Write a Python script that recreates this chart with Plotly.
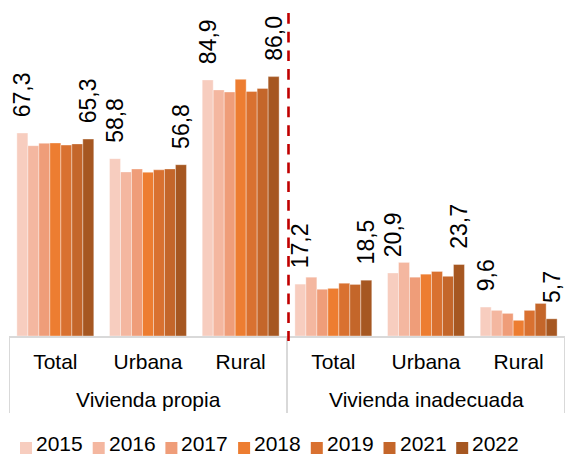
import plotly.graph_objects as go

# Housing indicators by area, 2015-2022 (percent)
groups = ["Vivienda propia", "Vivienda inadecuada"]
areas = ["Total", "Urbana", "Rural"]
years = ["2015", "2016", "2017", "2018", "2019", "2021", "2022"]

# one list per year: propia (Total, Urbana, Rural), inadecuada (Total, Urbana, Rural)
v2015 = [67.3, 58.8, 84.9, 17.2, 20.9, 9.6]
v2016 = [63.1, 54.4, 81.6, 19.5, 24.4, 8.5]
v2017 = [63.9, 55.4, 80.9, 15.5, 19.5, 7.5]
v2018 = [64.0, 54.3, 85.1, 15.8, 20.5, 5.2]
v2019 = [63.3, 55.1, 81.1, 17.5, 21.4, 8.5]
v2021 = [63.7, 55.4, 82.1, 17.1, 19.8, 10.8]
v2022 = [65.3, 56.8, 86.0, 18.5, 23.7, 5.7]
series = [v2015, v2016, v2017, v2018, v2019, v2021, v2022]

colors = ["#F7CDBF", "#F4B7A0", "#EF9D79", "#ED7D31", "#D97130", "#C4662A", "#A65721"]
labelled = {"2015", "2022"}

FONT = "Liberation Sans, Arial, sans-serif"

tick_labels = areas * len(groups)
positions = list(range(len(tick_labels)))


def fmt(v):
    return f"{v:.1f}".replace(".", ",")


fig = go.Figure()
for year, vals, col in zip(years, series, colors):
    text = ["\u00a0\u00a0" + fmt(v) for v in vals] if year in labelled else None
    fig.add_trace(go.Bar(
        x=positions, y=vals, name=year,
        marker=dict(color=col, line=dict(color="rgba(255,255,255,0.6)", width=0.6)),
        text=text, textposition="outside" if text else "none",
        textangle=-90, constraintext="none", cliponaxis=False,
        textfont=dict(family=FONT, size=23, color="#000000"),
        showlegend=False, hoverinfo="skip",
    ))

# plot-area geometry in pixels, used to place items below the axis
W, H = 565, 455
ML, MR, MT, MB = 9, 0, 13, 119
pw, ph = W - ML - MR, H - MT - MB


def px_x(px):
    return (px - ML) / pw


def px_y(py):
    return (H - MB - py) / ph


shapes = []
annotations = []

# group labels and the dividers that box them
n = len(areas)
for gi, g in enumerate(groups):
    annotations.append(dict(xref="x", yref="paper", x=gi * n + (n - 1) / 2, y=px_y(399),
                            xanchor="center", yanchor="middle", showarrow=False,
                            text=g, font=dict(family=FONT, size=21, color="#000000")))
for b in range(len(groups) + 1):
    shapes.append(dict(type="line", xref="x", yref="paper",
                       x0=b * n - 0.5, x1=b * n - 0.5, y0=0, y1=px_y(413),
                       line=dict(color="#D9D9D9", width=2)))

# legend: colour square followed by the year
for i, (year, col) in enumerate(zip(years, colors)):
    x0 = 20 + i * 72.7
    shapes.append(dict(type="rect", xref="paper", yref="paper",
                       x0=px_x(x0), x1=px_x(x0 + 12), y0=px_y(454), y1=px_y(442),
                       fillcolor=col, line=dict(width=0)))
    annotations.append(dict(xref="paper", yref="paper", x=px_x(x0 + 15), y=px_y(443),
                            xanchor="left", yanchor="middle", showarrow=False, borderpad=0,
                            text=year, font=dict(family=FONT, size=21, color="#000000")))

# red dashed separator between the two indicator blocks
shapes.append(dict(type="line", xref="paper", yref="paper",
                   x0=px_x(288.5), x1=px_x(288.5), y0=1.0, y1=px_y(341),
                   line=dict(color="#C00000", width=2.6, dash="10.7px,8px")))

fig.update_layout(
    width=W, height=H,
    margin=dict(l=ML, r=MR, t=MT, b=MB, pad=0),
    paper_bgcolor="white", plot_bgcolor="white",
    barmode="group", bargap=0.17, bargroupgap=0,
    font=dict(family=FONT, size=21, color="#000000"),
    xaxis=dict(
        range=[-0.5, len(tick_labels) - 0.5],
        tickmode="array", tickvals=positions, ticktext=tick_labels,
        showline=True, linecolor="#D9D9D9", linewidth=2,
        ticks="outside", ticklen=6, tickcolor="rgba(0,0,0,0)",
        showgrid=False, zeroline=False, fixedrange=True,
        tickfont=dict(family=FONT, size=21, color="#000000"),
    ),
    yaxis=dict(visible=False, range=[0, ph / 3.016], fixedrange=True),
    shapes=shapes, annotations=annotations,
)

fig.write_html("out.html")
